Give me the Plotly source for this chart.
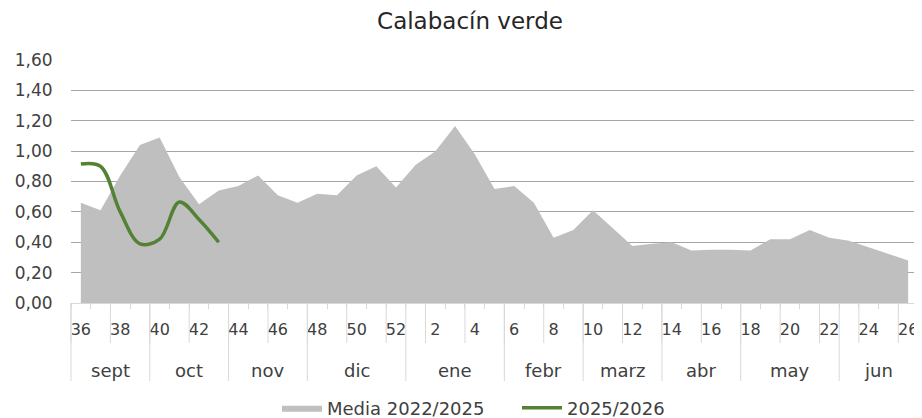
import plotly.graph_objects as go

weeks = [36, 37, 38, 39, 40, 41, 42, 43, 44, 45, 46, 47, 48, 49, 50, 51, 52,
         1, 2, 3, 4, 5, 6, 7, 8, 9, 10, 11, 12, 13, 14, 15, 16, 17, 18, 19, 20,
         21, 22, 23, 24, 25, 26]
media = [0.66, 0.61, 0.84, 1.04, 1.09, 0.83, 0.65, 0.74, 0.77, 0.84, 0.71, 0.66,
         0.72, 0.71, 0.84, 0.90, 0.76,
         0.91, 1.00, 1.165, 0.98, 0.75, 0.77, 0.66, 0.43, 0.48, 0.61, 0.49, 0.375,
         0.39, 0.40, 0.345, 0.35, 0.35, 0.345, 0.42, 0.42, 0.48, 0.43, 0.41, 0.365,
         0.32, 0.28]
current = [0.915, 0.90, 0.60, 0.39, 0.42, 0.665, 0.55, 0.40]
months = ["sept", "oct", "nov", "dic", "ene", "febr", "marz", "abr", "may", "jun"]
month_weeks = [4, 4, 4, 5, 5, 4, 4, 4, 5, 4]
yticks = [0, 0.2, 0.4, 0.6, 0.8, 1.0, 1.2, 1.4, 1.6]

FONT = "DejaVu Sans"
TXT = "#404040"
SEP = "#d9d9d9"

idx = list(range(len(weeks)))
n = len(weeks)

# page body has an 8px margin: the figure is 8px smaller and all layout is offset
W, HT = 914, 410
ML, MR, MT, MB = 63, 4, 52, 115
H = HT - MT - MB

fig = go.Figure()
fig.add_trace(go.Scatter(
    x=idx, y=media, name="Media 2022/2025", mode="lines",
    fill="tozeroy", fillcolor="#bfbfbf", line=dict(width=0, color="#bfbfbf"),
))
fig.add_trace(go.Scatter(
    x=idx[:len(current)], y=current, name="2025/2026", mode="lines",
    line=dict(color="#548235", width=3.5, shape="spline", smoothing=1.0),
))

# separators and month labels (multi-level category axis)
wk_len = 40 / H
mo_len = 78 / H
shapes = []
for i in range(0, n + 1, 2):
    shapes.append(dict(type="line", xref="paper", yref="paper",
                       x0=i / n, x1=i / n, y0=0, y1=-wk_len,
                       line=dict(color=SEP, width=1)))
annotations = []
start = 0
bounds = [0]
for m, c in zip(months, month_weeks):
    annotations.append(dict(text=m, xref="paper", yref="paper",
                            x=(start + c / 2) / n, y=-67 / H,
                            xanchor="center", yanchor="middle", showarrow=False,
                            font=dict(family=FONT, size=18, color=TXT)))
    start += c
    bounds.append(start)
for b in bounds:
    shapes.append(dict(type="line", xref="paper", yref="paper",
                       x0=b / n, x1=b / n, y0=0, y1=-mo_len,
                       line=dict(color=SEP, width=1)))

fig.update_layout(
    width=W, height=HT,
    margin=dict(l=ML, r=MR, t=MT, b=MB, autoexpand=False),
    paper_bgcolor="white", plot_bgcolor="white",
    separators=",.",
    title=dict(text="Calabacín verde", x=462 / W, xanchor="center",
               y=1 - 13 / HT, yanchor="middle",
               font=dict(family=FONT, size=23, color="#262626")),
    font=dict(family=FONT, size=16, color=TXT),
    xaxis=dict(
        range=[-0.5, n - 0.5], automargin=False,
        tickmode="array", tickvals=idx[::2], ticktext=[str(w) for w in weeks[::2]],
        ticks="outside", ticklen=12, tickcolor="rgba(0,0,0,0)",
        tickfont=dict(family=FONT, size=16, color=TXT),
        showgrid=False, zeroline=False,
        showline=True, linecolor=SEP, linewidth=1,
        minor=dict(tickmode="array", tickvals=[i - 0.5 for i in range(n + 1)],
                   ticks="outside", ticklen=5, tickcolor=SEP, tickwidth=1,
                   showgrid=False),
    ),
    yaxis=dict(
        range=[0, 1.6], tickmode="array", tickvals=yticks, tickformat=".2f",
        automargin=False,
        showgrid=True, gridcolor="#a6a6a6", gridwidth=1,
        zeroline=False, showline=False, ticks="outside", ticklen=14,
        tickcolor="rgba(0,0,0,0)",
        tickfont=dict(family=FONT, size=17, color=TXT),
    ),
    legend=dict(orientation="h", x=(509 - ML) / (W - ML - MR), xanchor="center",
                y=-105 / H, yanchor="middle",
                font=dict(family=FONT, size=18, color=TXT),
                bgcolor="rgba(0,0,0,0)", itemwidth=40, tracegroupgap=0,
                entrywidth=185, entrywidthmode="pixels"),
    shapes=shapes, annotations=annotations,
    showlegend=True,
)

fig.write_html("out.html")
